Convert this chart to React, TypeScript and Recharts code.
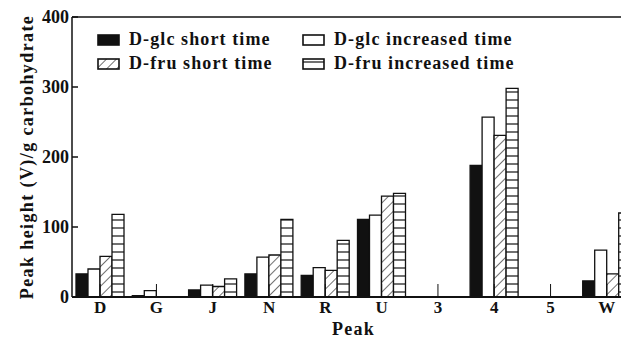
import { BarChart, Bar, XAxis, YAxis, ReferenceLine } from 'recharts';

const peaks = ['D', 'G', 'J', 'N', 'R', 'U', '3', '4', '5', 'W'];
const glcShort = [33, 2, 10, 33, 31, 111, 0, 188, 0, 23];
const glcIncreased = [40, 9, 17, 57, 42, 117, 0, 257, 0, 67];
const fruShort = [58, 0, 15, 60, 38, 144, 0, 231, 0, 33];
const fruIncreased = [118, 0, 26, 111, 81, 148, 0, 298, 0, 120];
const yTicks = [0, 100, 200, 300, 400];

const data = peaks.map((peak, i) => ({
  peak,
  glcShort: glcShort[i],
  glcIncreased: glcIncreased[i],
  fruShort: fruShort[i],
  fruIncreased: fruIncreased[i],
}));

const FONT = '"Liberation Serif", "Times New Roman", Times, serif';
const INK = '#111';

// bar order within each peak group
const series = [
  { key: 'glcShort', label: 'D-glc short time', fill: INK },
  { key: 'glcIncreased', label: 'D-glc increased time', fill: '#fff' },
  { key: 'fruShort', label: 'D-fru short time', fill: 'url(#diagHatch)' },
  { key: 'fruIncreased', label: 'D-fru increased time', fill: 'url(#rowHatch)' },
];

function Patterns() {
  return (
    <defs>
      <pattern id="diagHatch" width="7" height="7" patternUnits="userSpaceOnUse" patternTransform="rotate(45)">
        <rect width="7" height="7" fill="#fff" />
        <line x1="0" y1="0" x2="0" y2="7" stroke={INK} strokeWidth="1.2" />
      </pattern>
      <pattern id="rowHatch" width="8" height="8" patternUnits="userSpaceOnUse">
        <rect width="8" height="8" fill="#fff" />
        <line x1="0" y1="4" x2="8" y2="4" stroke={INK} strokeWidth="1.2" />
      </pattern>
    </defs>
  );
}

function YTick({ x, y, payload }: any) {
  return (
    <g>
      <line x1={x + 3} y1={y} x2={x + 9} y2={y} stroke={INK} strokeWidth={1.5} />
      <text x={x} y={y} dy={6} textAnchor="end" fontFamily={FONT} fontWeight="bold" fontSize={18} fill={INK}>
        {payload.value}
      </text>
    </g>
  );
}

function XTick({ x, y, payload }: any) {
  return (
    <g>
      <line x1={x} y1={y - 2} x2={x} y2={y - 15} stroke={INK} strokeWidth={1} />
      <text x={x} y={y} dy={14} textAnchor="middle" fontFamily={FONT} fontWeight="bold" fontSize={17} fill={INK}>
        {payload.value}
      </text>
    </g>
  );
}

function LegendBox() {
  // two columns: short time on the left, increased time on the right
  return (
    <div
      style={{
        position: 'absolute',
        top: 28,
        left: 97,
        display: 'grid',
        gridTemplateColumns: '205px 220px',
        rowGap: 1,
      }}
    >
      {series.map((s) => (
        <div key={s.key} style={{ display: 'flex', alignItems: 'center', height: 23 }}>
          <svg width={24} height={12} style={{ marginRight: 8 }}>
            <rect x={1} y={1} width={21} height={10} fill={s.fill} stroke={INK} strokeWidth={1.6} />
          </svg>
          <span
            style={{
              fontFamily: FONT,
              fontWeight: 'bold',
              fontSize: 18,
              letterSpacing: 1.1,
              color: INK,
              whiteSpace: 'nowrap',
            }}
          >
            {s.label}
          </span>
        </div>
      ))}
    </div>
  );
}

export default function App() {
  return (
    <div style={{ margin: '-8px 0 0 -8px', width: 629, height: 339, overflow: 'hidden', position: 'relative', background: '#fff' }}>
      <svg width={0} height={0} style={{ position: 'absolute' }}>
        <Patterns />
      </svg>
      <BarChart
        width={640}
        height={339}
        data={data}
        margin={{ top: 17, right: 5, left: 20, bottom: 0 }}
        barSize={12}
        barGap={0}
      >
        <Patterns />
        <YAxis
          domain={[0, 400]}
          ticks={yTicks}
          width={52}
          tickSize={0}
          tickMargin={3}
          tick={<YTick />}
          stroke={INK}
          strokeWidth={1.5}
          label={{
            value: 'Peak height (V)/g carbohydrate',
            angle: -90,
            position: 'insideLeft',
            offset: 7,
            style: {
              textAnchor: 'middle',
              fontFamily: FONT,
              fontWeight: 'bold',
              fontSize: 18,
              letterSpacing: 1.4,
              fill: INK,
            },
          }}
        />
        <XAxis
          dataKey="peak"
          height={42}
          tickSize={0}
          tickMargin={2}
          tick={<XTick />}
          stroke={INK}
          strokeWidth={2}
          label={{
            value: 'Peak',
            position: 'insideBottom',
            offset: 4,
            style: { fontFamily: FONT, fontWeight: 'bold', fontSize: 18, letterSpacing: 1.2, fill: INK },
          }}
        />
        <ReferenceLine y={400} stroke={INK} strokeWidth={1.5} />
        {series.map((s) => (
          <Bar
            key={s.key}
            dataKey={s.key}
            name={s.label}
            fill={s.fill}
            stroke={INK}
            strokeWidth={1.3}
            isAnimationActive={false}
          />
        ))}
      </BarChart>
      <LegendBox />
    </div>
  );
}
